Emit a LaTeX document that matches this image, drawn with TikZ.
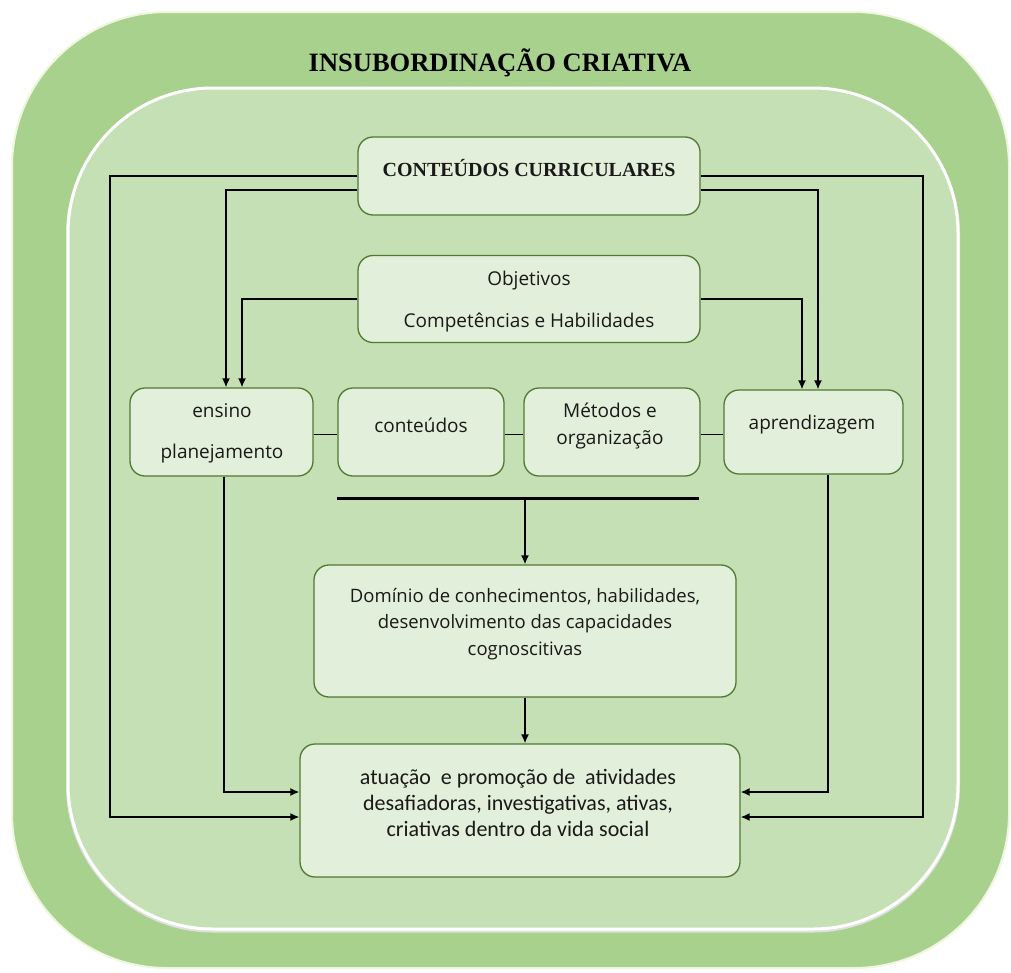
\documentclass[tikz,border=0pt]{standalone}
\usepackage{fontspec}
\setmainfont{Open Sans}
\newfontfamily\titlefont{Liberation Serif}
\newfontfamily\calfont{Carlito}
\usetikzlibrary{arrows.meta}
\definecolor{outerg}{HTML}{A9D18E}
\definecolor{outerb}{HTML}{EEF6DC}
\definecolor{innerg}{HTML}{C5E0B4}
\definecolor{boxg}{HTML}{E2EFDA}
\definecolor{boxb}{HTML}{4F7A30}
\begin{document}
\begin{tikzpicture}[x=1pt,y=-1pt,
  box/.style={draw=boxb, fill=boxg, line width=1.3pt, rounded corners=15pt, inner sep=0pt},
  lbl/.style={font=\fontsize{19}{22}\selectfont, inner sep=0pt, align=center, text=black!90},
  conn/.style={line width=1.5pt, black},
  arr/.style={conn, -{Latex[length=9pt,width=8pt]}}]
\useasboundingbox (0,0) rectangle (1011,972);
\fill[white] (0,0) rectangle (1011,972);
% frames
\draw[fill=outerg, draw=outerb, line width=2pt, rounded corners=155pt] (12,12) rectangle (1009,968);
\draw[black!12, line width=4pt, rounded corners=145pt] (68,89.5) rectangle (958,930.5);
\draw[fill=innerg, draw=white, line width=3pt, rounded corners=145pt] (68,88) rectangle (958,929);
\node[inner sep=0pt, font=\titlefont\bfseries\fontsize{26.5}{30}\selectfont] (title) at (500,63) {INSUBORDINAÇÃO CRIATIVA};
% boxes
\node[box, minimum width=342pt, minimum height=78pt] (cc) at (529,176) {};
\node[box, minimum width=342pt, minimum height=87pt] (obj) at (529,299) {};
\node[box, minimum width=183pt, minimum height=88pt] (ens) at (221.5,432) {};
\node[box, minimum width=166pt, minimum height=88pt] (cont) at (421,432) {};
\node[box, minimum width=176pt, minimum height=88pt] (met) at (612,432) {};
\node[box, minimum width=179pt, minimum height=84pt] (apr) at (813.5,432) {};
\node[box, minimum width=422pt, minimum height=132pt] (dom) at (525,631) {};
\node[box, minimum width=440pt, minimum height=133pt] (atu) at (520,810.5) {};
% texts
\node[lbl, font=\titlefont\bfseries\fontsize{20}{24}\selectfont] (cctxt) at (529,168) {CONTEÚDOS CURRICULARES};
\node[lbl, font=\fontsize{19}{42}\selectfont] (objtxt) at (529,302) {Objetivos\\Competências e Habilidades};
\node[lbl, font=\fontsize{19}{41}\selectfont] (enstxt) at (222,433) {ensino\\planejamento};
\node[lbl] (conttxt) at (421,425) {conteúdos};
\node[lbl, font=\fontsize{19}{27}\selectfont] (mettxt) at (610,426) {Métodos e\\organização};
\node[lbl] (aprtxt) at (812,425) {aprendizagem};
\node[lbl, font=\fontsize{18.5}{26.5}\selectfont] (domtxt) at (525,624) {Domínio de conhecimentos, habilidades,\\desenvolvimento das capacidades\\cognoscitivas};
\node[lbl, font=\calfont\fontsize{22}{26}\selectfont] (atutxt) at (518,803) {atuação~ e promoção de~ atividades\\desafiadoras, investigativas, ativas,\\criativas dentro da vida social};
% connectors
\coordinate (lo) at (110,817);
\coordinate (ro) at (923,817);
\draw[arr] (cc.west) -| (lo) -- (lo -| atu.west);
\draw[arr] (cc.east) -| (ro) -- (ro -| atu.east);
\draw[arr] ([yshift=-14pt]cc.west) -| ([xshift=4.5pt]ens.north);
\draw[arr] (obj.west) -| ([xshift=20.5pt]ens.north);
\draw[arr] ([yshift=-14pt]cc.east) -| ([xshift=4.5pt]apr.north);
\draw[arr] (obj.east) -| ([xshift=-11.5pt]apr.north);
\draw[conn] ([yshift=-2.5pt]ens.east) -- ([yshift=-2.5pt]cont.west);
\draw[conn] ([yshift=-2.5pt]cont.east) -- ([yshift=-2.5pt]met.west);
\draw[conn] ([yshift=-2.5pt]met.east) -- ([yshift=-2.5pt]apr.west);
\draw[arr] ([xshift=2.5pt]ens.south) |- ([yshift=18.5pt]atu.west);
\draw[arr] ([xshift=14.5pt]apr.south) |- ([yshift=18.5pt]atu.east);
\coordinate (tl) at (337,498);
\coordinate (tr) at (699,498);
\coordinate (tm) at (525,498);
\draw[line width=3pt] (tl) -- (tr);
\draw[arr] (tm) -- (dom.north);
\draw[arr] (dom.south) -- (dom.south |- atu.north);
\end{tikzpicture}
\end{document}
